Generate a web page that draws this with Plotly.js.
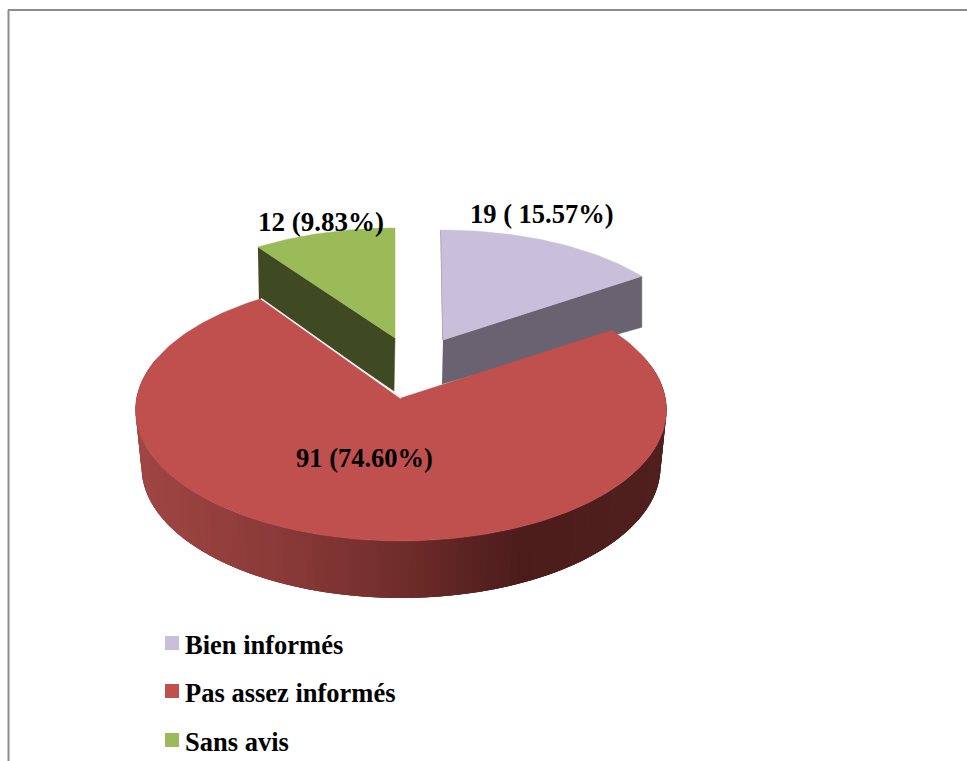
<!DOCTYPE html>
<html><head><meta charset="utf-8">
<script src="https://cdn.plot.ly/plotly-3.0.1.min.js"></script>
<style>html,body{margin:0;padding:0;background:#fff;overflow:hidden}#c{width:967px;height:761px}</style>
</head><body><div id="c"></div>
<script>
const categories = ["Bien informés", "Pas assez informés", "Sans avis"];
const values = [19, 91, 12];
const sliceLabels = ["19 ( 15.57%)", "91 (74.60%)", "12 (9.83%)"];

const topColors = ["#c8c0da", "#bf504e", "#9bbb59"];
const wallColors = ["#696270", "#6e2c2a", "#404a22"];
const serif = '"Liberation Serif","Times New Roman",serif';

// Projected geometry of each exploded slice: upper ellipse, apex, wall depth at the rim and at the apex
const geom = [
  {cx:441, cy:348, rx:253,   ry:118, ax:443, ay:340, dRim:51, dApex:44},
  {cx:401, cy:410, rx:265.5, ry:131, ax:401, ay:398, dRim:58, dApex:0, rxLow:259.5, dyLow:57},
  {cx:395, cy:355, rx:260,   ry:127, ax:395, ay:338, dRim:52, dApex:53}
];
const warp = deg => deg - 3.8 * Math.sin(2 * deg * Math.PI / 180); // perspective shift of the angle
const total = values.reduce((a, b) => a + b, 0);
let run = 0;
const spans = values.map(v => { const s = run; run += v; return [s / total * 360, run / total * 360]; });

function rim(g, deg, low) {
  const t = warp(deg) * Math.PI / 180;
  const rx = low && g.rxLow ? g.rxLow : g.rx;
  const dy = low ? (g.dyLow !== undefined ? g.dyLow : g.dRim) : 0;
  return [g.cx + rx * Math.sin(t), g.cy + dy - g.ry * Math.cos(t)];
}
function poly(pts, color, lineW) {
  return {type:"scatter", mode:"lines", x:pts.map(p=>p[0]), y:pts.map(p=>p[1]), fill:"toself",
    fillcolor:color, line:{color:color, width:lineW===undefined?0.5:lineW},
    hoverinfo:"skip", showlegend:false};
}
function topFace(i) {
  const g = geom[i], [a, b] = spans[i], pts = [[g.ax, g.ay]];
  const n = Math.ceil(b - a);
  for (let k = 0; k <= n; k++) pts.push(rim(g, a + (b - a) * k / n));
  pts.push([g.ax, g.ay]);
  return poly(pts, topColors[i]);
}
const traces = [];

// Bien informés: wall at the trailing edge, then top
{
  const g = geom[0], e = spans[0][1], r = rim(g, e);
  traces.push(poly([[g.ax,g.ay], r, [r[0], r[1]+g.dRim], [g.ax-1, g.ay+g.dApex]], wallColors[0]));
  traces.push({type:"scatter", mode:"lines", x:[g.cx, g.ax], y:[g.cy-g.ry, g.ay],
    line:{color:"#8e88a0", width:1.5}, hoverinfo:"skip", showlegend:false});
  traces.push(topFace(0));
}
// Sans avis: wall at the leading edge, then top
{
  const g = geom[2], s = spans[2][0], r = rim(g, s);
  traces.push(poly([[r[0],r[1]], [g.ax,g.ay], [g.ax-1, g.ay+g.dApex], [r[0]+1, r[1]+g.dRim]], wallColors[2]));
  traces.push(topFace(2));
}
// Pas assez informés: shaded outer wall painted left to right in overlapping strips, then top
{
  const g = geom[1];
  const stops = [[136,[160,70,68]], [300,[134,56,54]], [400,[112,45,43]], [520,[76,28,27]], [667,[80,32,31]]];
  const shade = x => {
    for (let i = 1; i < stops.length; i++) if (x <= stops[i][0]) {
      const f = (x - stops[i-1][0]) / (stops[i][0] - stops[i-1][0]);
      const c = stops[i-1][1].map((v, j) => Math.round(v + (stops[i][1][j] - v) * f));
      return `rgb(${c.join(",")})`;
    }
    return `rgb(${stops[stops.length-1][1].join(",")})`;
  };
  const from = 70, to = 290, step = 2, overlap = 4;
  // strips run from the right end to the left end, each overlapping the previous one
  for (let d = from; d < to; d += step) {
    const pts = [];
    const end = Math.min(to, d + step + overlap);
    for (let k = d; k <= end; k += 1) pts.push(rim(g, k));
    for (let k = end; k >= d; k -= 1) pts.push(rim(g, k, true));
    const a = rim(g, d), b = rim(g, d + step);
    traces.push(poly(pts, shade((a[0] + b[0]) / 2), 0));
  }
  traces.push(topFace(1));
  const l = rim(g, spans[1][1]);
  traces.push({type:"scatter", mode:"lines", x:[l[0], g.ax], y:[l[1], g.ay],
    line:{color:"#f4f0ee", width:1.6}, hoverinfo:"skip", showlegend:false});
}
// Legend swatches
const legendX = 172, legendY = [643, 691, 740];
traces.push({type:"scatter", mode:"markers", x:categories.map(()=>legendX), y:legendY,
  marker:{symbol:"square", size:14, color:topColors, line:{width:0}}, hoverinfo:"skip", showlegend:false});

const labelPos = [[542,214,26.5],[364,458,26.5],[321,222,27]];
const annotations = sliceLabels.map((t, i) => ({x:labelPos[i][0], y:labelPos[i][1], text:"<b>"+t+"</b>",
  showarrow:false, xanchor:"center", yanchor:"middle", font:{family:serif, size:labelPos[i][2], color:"#000"}}))
  .concat(categories.map((t, i) => ({x:183, y:legendY[i]+1.5, text:"<b>"+t+"</b>", showarrow:false,
    xanchor:"left", yanchor:"middle", font:{family:serif, size:26.5, color:"#000"}})));

const layout = {
  width:967, height:761, margin:{l:0,r:0,t:0,b:0}, paper_bgcolor:"#fff", plot_bgcolor:"#fff", showlegend:false,
  xaxis:{range:[0,967], visible:false, fixedrange:true},
  yaxis:{range:[761,0], visible:false, fixedrange:true},
  annotations,
  shapes:[
    {type:"line", x0:8.5, x1:8.5, y0:10, y1:761, line:{color:"#8c8c8c", width:2}},
    {type:"line", x0:8, x1:967, y0:10, y1:10, line:{color:"#8c8c8c", width:2}}
  ]
};
Plotly.newPlot("c", traces, layout, {displayModeBar:false, staticPlot:true});
</script></body></html>
